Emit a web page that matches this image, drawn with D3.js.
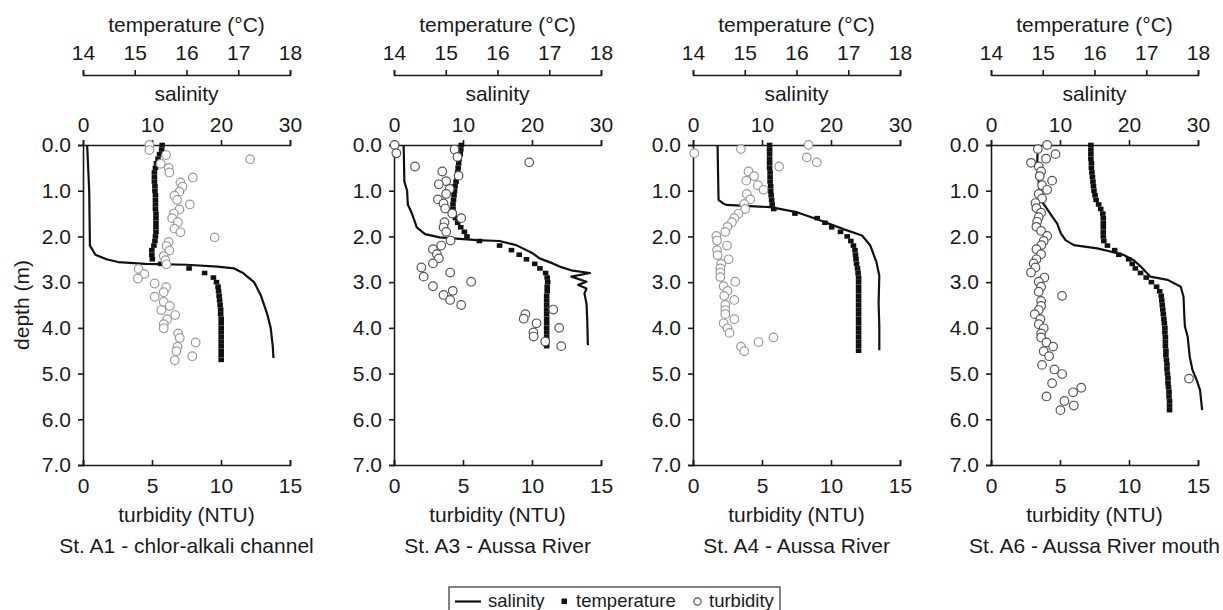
<!DOCTYPE html>
<html lang="en">
<head>
<meta charset="UTF-8">
<title>Depth profiles - Aussa River</title>
<script src="https://cdnjs.cloudflare.com/ajax/libs/d3/7.8.5/d3.min.js"></script>
<style>
    html, body {
        margin: 0;
        padding: 0;
        background: #fff;
    }
    svg text {
        font-family: "Liberation Sans", Arial, sans-serif;
        fill: #1a1a1a;
    }
    .axis path, .axis line {
        stroke: #1a1a1a;
        stroke-width: 1.6px;
    }
    .axis text {
        font-size: 21px;
    }
    .title {
        font-size: 21px;
        text-anchor: middle;
    }
    .legend text {
        font-size: 18.5px;
    }
</style>
</head>
<body>
<div id="chart"></div>
<script>
    // tick labels
    const depthTicks = [0, 1, 2, 3, 4, 5, 6, 7];
    const tempTicks = [14, 15, 16, 17, 18];
    const salTicks = [0, 10, 20, 30];
    const turbTicks = [0, 5, 10, 15];

    const stationNames = [
        "St. A1 - chlor-alkali channel",
        "St. A3 - Aussa River",
        "St. A4 - Aussa River",
        "St. A6 - Aussa River mouth"
    ];

    // salinity profiles [depth m, salinity]
    const salA1 = [[0,0.6],[1.0,0.9],[2.2,1.0],[2.4,1.8],[2.5,3.4],[2.56,5.1],[2.6,9],[2.62,15],[2.66,19.5],[2.7,21.9],
        [2.8,23.2],[2.88,23.8],[3.0,24.8],[3.3,25.8],[3.7,26.7],[4.0,27.2],[4.4,27.5],[4.66,27.6]];
    const salA3 = [[0,1.4],[0.8,1.5],[1.0,1.9],[1.3,2.0],[1.5,2.6],[1.8,3.3],[1.95,4.5],[2.02,6.6],[2.08,12],[2.1,15.3],
        [2.19,17.7],[2.37,20.1],[2.48,21.1],[2.59,23.0],[2.66,24.0],[2.75,25.9],[2.8,28.4],[2.88,25.7],[2.99,27.9],
        [3.06,26.7],[3.14,27.9],[3.25,27.6],[3.47,27.9],[3.8,28.0],[4.38,28.1]];
    const salA4 = [[0,3.56],[1.2,3.7],[1.28,4.4],[1.31,4.8],[1.36,11.2],[1.47,15.05],[1.62,17.9],[1.84,21.8],[1.98,24.5],
        [2.2,25.7],[2.57,26.6],[2.86,27.0],[3.46,26.9],[3.97,27.0],[4.49,27.0]];
    const salA6 = [[0,6.8],[0.37,6.7],[0.8,6.9],[1.2,7.2],[1.35,7.9],[1.57,8.9],[1.72,9.6],[1.93,10.1],[2.08,10.8],
        [2.19,12.0],[2.26,15.4],[2.33,17.3],[2.41,19.3],[2.52,20.7],[2.66,21.7],[2.88,23.1],[2.95,25.6],[3.1,27.5],
        [3.32,27.9],[3.68,28.0],[3.97,28.1],[4.19,28.5],[4.63,28.8],[4.92,29.2],[5.14,29.8],[5.36,30.3],[5.8,30.6]];

    // temperature profiles [depth m, °C]
    const tempA1 = [[0,15.53],[0.1,15.52],[0.2,15.48],[0.3,15.45],[0.4,15.42],[0.5,15.40],[0.6,15.38],[0.7,15.38],
        [0.8,15.38],[0.9,15.39],[1.0,15.39],[1.1,15.40],[1.2,15.40],[1.3,15.40],[1.4,15.40],[1.5,15.41],[1.6,15.41],
        [1.7,15.41],[1.8,15.41],[1.9,15.41],[2.0,15.40],[2.1,15.39],[2.2,15.37],[2.3,15.33],[2.4,15.33],[2.5,15.34],
        [2.6,15.50],[2.7,16.05],[2.8,16.35],[2.9,16.52],[3.0,16.58],[3.1,16.61],[3.2,16.62],[3.3,16.63],[3.4,16.64],
        [3.5,16.65],[3.6,16.66],[3.7,16.66],[3.8,16.67],[3.9,16.67],[4.0,16.67],[4.1,16.67],[4.2,16.67],[4.3,16.67],
        [4.4,16.67],[4.5,16.67],[4.6,16.67],[4.7,16.67]];
    const tempA3 = [[0,15.30],[0.1,15.29],[0.2,15.28],[0.3,15.26],[0.4,15.25],[0.5,15.24],[0.6,15.23],[0.7,15.22],
        [0.8,15.20],[0.9,15.18],[1.0,15.17],[1.1,15.16],[1.2,15.15],[1.3,15.14],[1.4,15.14],[1.5,15.16],[1.6,15.19],
        [1.7,15.23],[1.8,15.29],[1.9,15.36],[2.0,15.41],[2.1,15.65],[2.2,16.04],[2.3,16.27],[2.4,16.42],[2.5,16.56],
        [2.6,16.72],[2.7,16.82],[2.8,16.93],[2.9,16.96],[3.0,16.97],[3.1,16.96],[3.2,16.96],[3.3,16.95],[3.4,16.95],
        [3.5,16.95],[3.6,16.95],[3.7,16.95],[3.8,16.95],[3.9,16.95],[4.0,16.95],[4.1,16.95],[4.2,16.95],[4.3,16.95],
        [4.4,16.95]];
    const tempA4 = [[0,15.48],[0.1,15.48],[0.2,15.48],[0.3,15.48],[0.4,15.48],[0.5,15.48],[0.6,15.49],[0.7,15.49],
        [0.8,15.49],[0.9,15.50],[1.0,15.50],[1.1,15.51],[1.2,15.52],[1.3,15.53],[1.4,15.56],[1.5,15.97],[1.6,16.40],
        [1.7,16.55],[1.8,16.68],[1.9,16.85],[2.0,16.98],[2.1,17.05],[2.2,17.10],[2.3,17.13],[2.4,17.14],[2.5,17.15],
        [2.6,17.16],[2.7,17.18],[2.8,17.19],[2.9,17.20],[3.0,17.20],[3.1,17.20],[3.2,17.20],[3.3,17.20],[3.4,17.20],
        [3.5,17.20],[3.6,17.20],[3.7,17.20],[3.8,17.20],[3.9,17.20],[4.0,17.20],[4.1,17.20],[4.2,17.20],[4.3,17.20],
        [4.4,17.20],[4.5,17.20]];
    const tempA6 = [[0,15.93],[0.1,15.93],[0.2,15.93],[0.3,15.93],[0.4,15.94],[0.5,15.94],[0.6,15.95],[0.7,15.96],
        [0.8,15.97],[0.9,15.98],[1.0,15.99],[1.1,16.01],[1.2,16.03],[1.3,16.08],[1.4,16.12],[1.5,16.16],[1.6,16.17],
        [1.7,16.17],[1.8,16.17],[1.9,16.17],[2.0,16.17],[2.1,16.18],[2.2,16.25],[2.3,16.39],[2.4,16.47],[2.5,16.66],
        [2.6,16.73],[2.7,16.79],[2.8,16.89],[2.9,17.00],[3.0,17.10],[3.1,17.20],[3.2,17.26],[3.3,17.29],[3.4,17.30],
        [3.5,17.31],[3.6,17.32],[3.7,17.33],[3.8,17.34],[3.9,17.35],[4.0,17.36],[4.1,17.36],[4.2,17.37],[4.3,17.37],
        [4.4,17.37],[4.5,17.38],[4.6,17.38],[4.7,17.39],[4.8,17.40],[4.9,17.40],[5.0,17.41],[5.1,17.42],[5.2,17.42],
        [5.3,17.43],[5.4,17.44],[5.5,17.44],[5.6,17.45],[5.7,17.45],[5.8,17.45]];

    // turbidity readings [depth m, NTU]
    const turbA1 = [[0,4.81],[0.11,4.81],[0.22,6.02],[0.31,12.11],[0.41,5.63],[0.5,6.21],[0.6,6.26],[0.71,7.96],
        [0.82,7.06],[0.91,7.21],[1.02,6.99],[1.11,6.63],[1.2,6.82],[1.3,7.74],[1.41,6.99],[1.5,6.58],[1.6,6.46],
        [1.69,6.87],[1.83,6.63],[1.91,7.06],[2.02,9.54],[2.12,6.21],[2.21,6.05],[2.31,6.26],[2.43,5.85],[2.52,5.97],
        [2.61,6.05],[2.71,4.03],[2.82,4.44],[2.92,3.98],[3.03,5.19],[3.11,6.02],[3.22,5.85],[3.32,5.19],[3.43,5.85],
        [3.52,6.29],[3.61,5.68],[3.72,6.68],[3.81,6.09],[3.92,5.85],[4.01,5.85],[4.12,6.9],[4.22,7.01],[4.32,8.16],
        [4.41,6.85],[4.51,6.77],[4.62,7.92],[4.71,6.65]];
    const turbA3 = [[0,0.05],[0.1,4.39],[0.18,0.17],[0.26,4.6],[0.38,9.8],[0.47,1.52],[0.58,3.5],[0.67,4.68],
        [0.79,3.78],[0.86,3.25],[0.96,4.03],[1.07,3.78],[1.19,3.18],[1.28,3.59],[1.39,3.71],[1.5,4.22],[1.6,4.87],
        [1.69,3.66],[1.8,3.59],[1.9,3.78],[2.09,4.1],[2.2,3.42],[2.28,2.82],[2.39,3.11],[2.48,3.25],[2.59,2.82],
        [2.68,1.98],[2.79,4.07],[2.88,2.15],[2.99,5.59],[3.09,2.82],[3.19,4.26],[3.28,3.59],[3.39,4.07],[3.5,4.87],
        [3.6,11.54],[3.7,9.52],[3.8,9.4],[3.9,10.33],[4.0,11.97],[4.1,10.1],[4.19,10.12],[4.3,10.96],[4.4,12.12]];
    const turbA4 = [[0,8.37],[0.09,3.47],[0.18,0.09],[0.27,8.25],[0.38,8.97],[0.47,6.24],[0.58,4.02],[0.68,4.43],
        [0.78,3.86],[0.88,4.7],[0.98,5.11],[1.07,3.9],[1.19,4.15],[1.29,3.71],[1.4,3.78],[1.5,3.3],[1.6,2.99],
        [1.69,2.82],[1.79,2.5],[1.9,2.34],[1.99,1.69],[2.09,1.74],[2.2,2.46],[2.3,1.74],[2.41,1.78],[2.5,2.58],
        [2.6,2.05],[2.7,1.98],[2.79,1.98],[2.89,1.98],[2.99,3.06],[3.09,2.22],[3.19,2.5],[3.3,2.26],[3.39,2.99],
        [3.5,2.34],[3.61,2.34],[3.7,2.34],[3.81,2.99],[3.9,2.22],[4.01,2.5],[4.11,2.65],[4.21,5.83],[4.31,4.75],
        [4.41,3.47],[4.51,3.71]];
    const turbA6 = [[0,4.07],[0.09,3.39],[0.2,4.67],[0.3,3.99],[0.39,2.9],[0.47,3.46],[0.58,3.63],[0.68,3.53],
        [0.78,4.43],[0.88,3.7],[0.98,4.07],[1.07,3.46],[1.17,3.7],[1.27,3.22],[1.38,3.29],[1.48,3.63],[1.58,3.46],
        [1.68,3.34],[1.79,3.29],[1.88,3.63],[1.99,4.07],[2.1,3.82],[2.19,3.65],[2.28,3.29],[2.39,3.63],[2.5,3.29],
        [2.59,3.09],[2.68,3.22],[2.79,2.9],[2.9,3.87],[2.99,3.46],[3.1,3.63],[3.21,3.46],[3.3,5.15],[3.41,3.63],
        [3.52,3.63],[3.61,3.46],[3.7,3.17],[3.81,3.58],[3.92,3.46],[4.01,3.82],[4.12,3.63],[4.21,3.63],[4.32,4.02],
        [4.41,4.5],[4.51,3.82],[4.62,4.21],[4.81,3.7],[4.91,4.6],[5.01,5.15],[5.11,14.35],[5.21,4.43],[5.31,6.54],
        [5.41,5.95],[5.5,4.02],[5.6,5.32],[5.7,6.0],[5.8,5.03]];

    const stations = [
        { name: stationNames[0], sal: salA1, temp: tempA1, turb: turbA1, circle: "#9a9a9a" },
        { name: stationNames[1], sal: salA3, temp: tempA3, turb: turbA3, circle: "#555" },
        { name: stationNames[2], sal: salA4, temp: tempA4, turb: turbA4, circle: "#9a9a9a" },
        { name: stationNames[3], sal: salA6, temp: tempA6, turb: turbA6, circle: "#555" }
    ];

    const width = 1223, height = 610;
    const panelLeft = [83, 394, 693, 991];
    const panelW = 207;
    const yTop = 145, yBottom = 465;
    const tempAxisY = 75;

    const svg = d3.select("#chart").append("svg")
        .attr("width", width)
        .attr("height", height);

    const y = d3.scaleLinear().domain([0, 7]).range([yTop, yBottom]);

    stations.forEach((st, i) => {
        const x0 = panelLeft[i];
        const g = svg.append("g").attr("transform", `translate(${x0},0)`);

        const xSal = d3.scaleLinear().domain([0, 30]).range([0, panelW]);
        const xTemp = d3.scaleLinear().domain([14, 18]).range([0, panelW]);
        const xTurb = d3.scaleLinear().domain([0, 15]).range([0, panelW]);

        // temperature axis (floating above)
        g.append("g")
            .attr("class", "axis")
            .attr("transform", `translate(0,${tempAxisY})`)
            .call(d3.axisTop(xTemp).tickValues(tempTicks).tickFormat(d3.format("d"))
                .tickSize(5).tickPadding(10));

        // salinity axis = top frame
        g.append("g")
            .attr("class", "axis")
            .attr("transform", `translate(0,${yTop})`)
            .call(d3.axisTop(xSal).tickValues(salTicks).tickFormat(d3.format("d"))
                .tickSize(5).tickPadding(8));

        // turbidity axis = bottom frame, ticks inward
        g.append("g")
            .attr("class", "axis")
            .attr("transform", `translate(0,${yBottom})`)
            .call(d3.axisBottom(xTurb).tickValues(turbTicks).tickFormat(d3.format("d"))
                .tickSize(-5).tickPadding(13));

        // depth axis
        g.append("g")
            .attr("class", "axis")
            .call(d3.axisLeft(y).tickValues(depthTicks).tickFormat(d3.format(".1f")).tickSize(5).tickPadding(7));

        g.selectAll(".axis .domain").attr("fill", "none");

        // axis titles
        g.append("text").attr("class", "title")
            .attr("x", panelW / 2).attr("y", 32)
            .text("temperature (°C)");
        g.append("text").attr("class", "title")
            .attr("x", panelW / 2).attr("y", 101)
            .text("salinity");
        g.append("text").attr("class", "title")
            .attr("x", panelW / 2).attr("y", 522)
            .text("turbidity (NTU)");
        g.append("text").attr("class", "title")
            .attr("x", panelW / 2).attr("y", 553)
            .text(st.name);

        // salinity line
        const line = d3.line()
            .x(d => xSal(d[1]))
            .y(d => y(d[0]));
        g.append("path")
            .datum(st.sal)
            .attr("d", line)
            .attr("fill", "none")
            .attr("stroke", "#111")
            .attr("stroke-width", 2.2)
            .attr("stroke-linejoin", "round");

        // temperature squares
        g.append("g")
            .selectAll("rect")
            .data(st.temp)
            .join("rect")
            .attr("x", d => xTemp(d[1]) - 2.8)
            .attr("y", d => y(d[0]) - 2.3)
            .attr("width", 5.6)
            .attr("height", 4.6)
            .attr("fill", "#111");

        // turbidity circles
        g.append("g")
            .selectAll("circle")
            .data(st.turb)
            .join("circle")
            .attr("cx", d => xTurb(d[1]))
            .attr("cy", d => y(d[0]))
            .attr("r", 4.3)
            .attr("fill", "#fff")
            .attr("stroke", st.circle)
            .attr("stroke-width", 1.2);
    });

    // shared depth label
    svg.append("text")
        .attr("class", "title")
        .attr("transform", "rotate(-90)")
        .attr("x", -305)
        .attr("y", 29)
        .text("depth (m)");

    // legend
    const legend = svg.append("g").attr("class", "legend");
    legend.append("rect")
        .attr("x", 449).attr("y", 587)
        .attr("width", 331).attr("height", 26)
        .attr("fill", "#fff")
        .attr("stroke", "#333")
        .attr("stroke-width", 1.2);
    legend.append("line")
        .attr("x1", 455).attr("x2", 481)
        .attr("y1", 601.5).attr("y2", 601.5)
        .attr("stroke", "#111").attr("stroke-width", 2.2);
    legend.append("text").attr("x", 488).attr("y", 607).text("salinity");
    legend.append("rect")
        .attr("x", 561.5).attr("y", 598.5)
        .attr("width", 5.5).attr("height", 5.5)
        .attr("fill", "#111");
    legend.append("text").attr("x", 576).attr("y", 607).text("temperature");
    legend.append("circle")
        .attr("cx", 697.5).attr("cy", 601.5).attr("r", 3.6)
        .attr("fill", "#fff").attr("stroke", "#555").attr("stroke-width", 1.2);
    legend.append("text").attr("x", 709).attr("y", 607).text("turbidity");
</script>
</body>
</html>
